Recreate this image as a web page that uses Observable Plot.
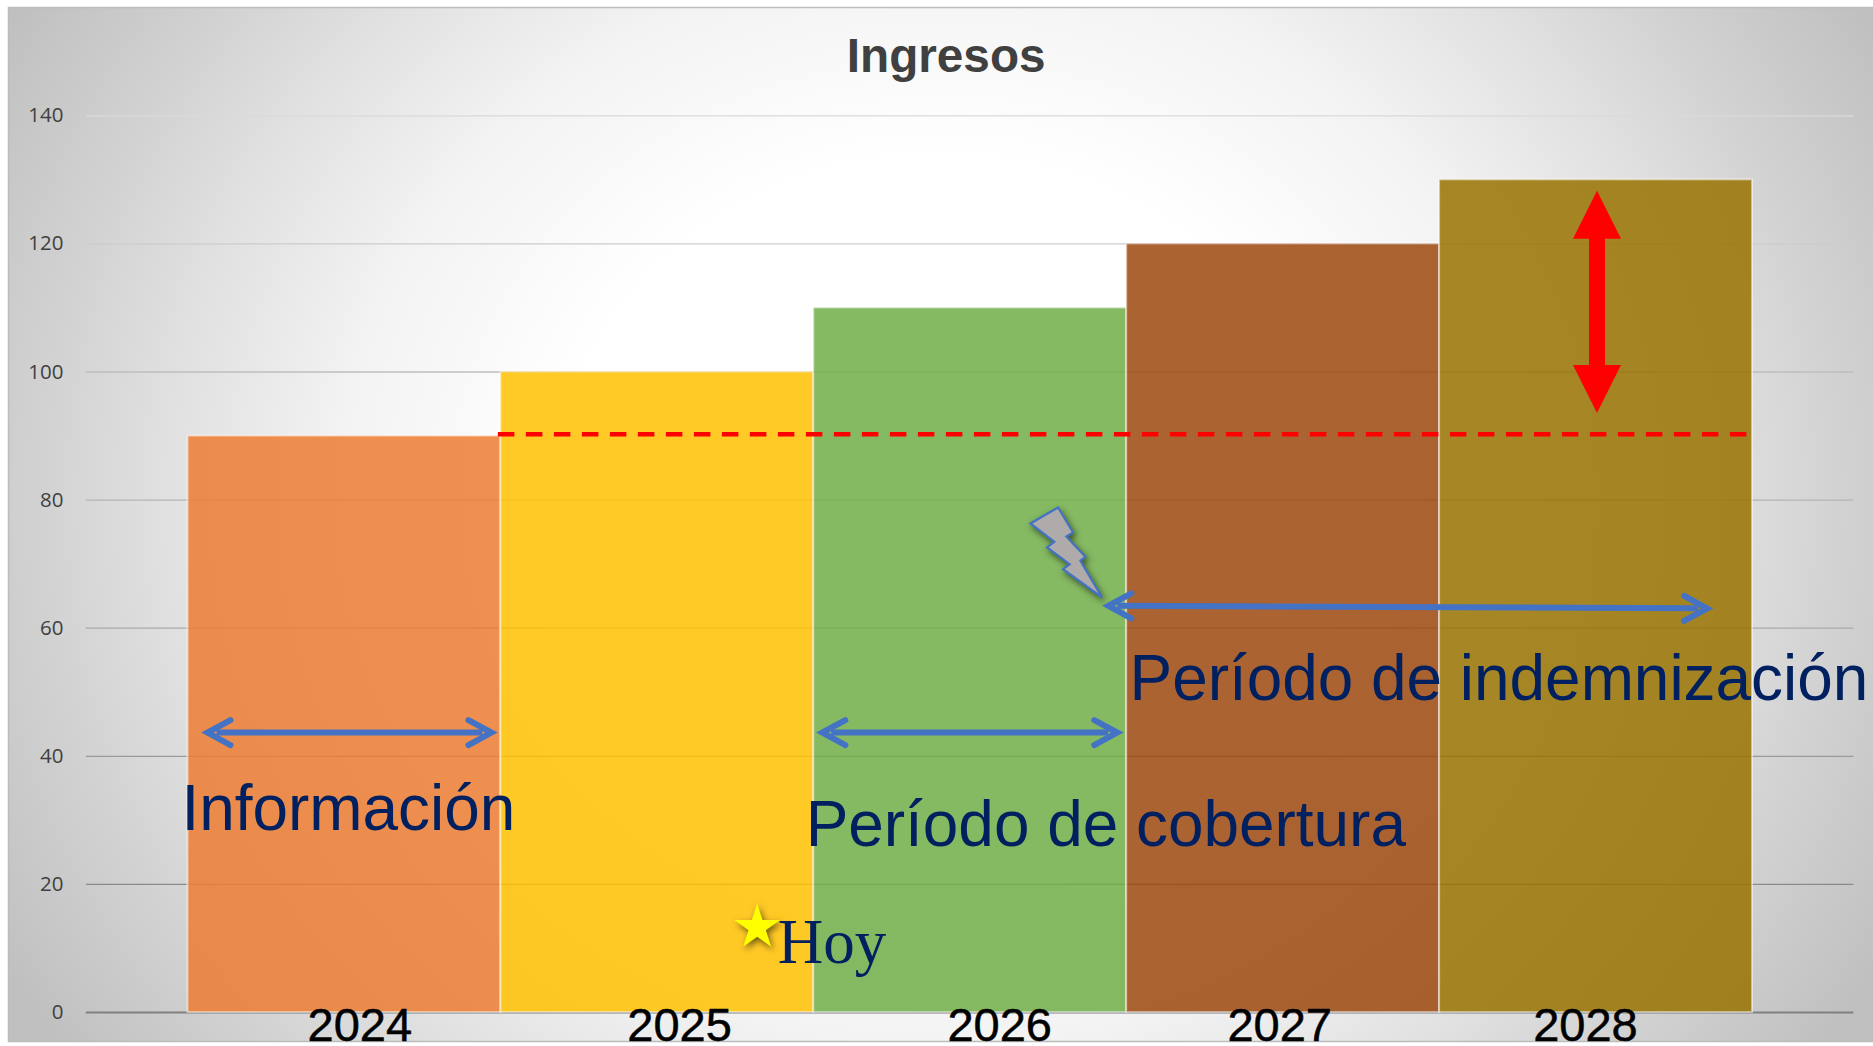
<!DOCTYPE html>
<html lang="es">
<head>
<meta charset="utf-8">
<title>Ingresos</title>
<script src="https://cdn.jsdelivr.net/npm/d3@7"></script>
<script src="https://cdn.jsdelivr.net/npm/@observablehq/plot@0.6"></script>
<style>
  html, body { margin: 0; padding: 0; background: #fff; overflow: hidden; }
  svg { display: block; }
</style>
</head>
<body>
<div id="chart"></div>
<script>
// Datos
const years = [2024, 2025, 2026, 2027, 2028];
const ingresos = [90, 100, 110, 120, 130];
const barColors = ["#ED7D31", "#FFC000", "#70AD47", "#9E480E", "#997300"];
const yTicks = [0, 20, 40, 60, 80, 100, 120, 140];

// Posición de las etiquetas de año (en años, no centradas en la barra)
const yearLabelX = [2024.049, 2025.071, 2026.094, 2026.989, 2027.966];
const yearLabelY = -4.4;

const bars = years.map((year, i) => ({year, value: ingresos[i], color: barColors[i]}));
const yearLabels = years.map((year, i) => ({year, x: yearLabelX[i]}));

const labelTexts = ["Información", "Período de cobertura", "Período de indemnización"];
const labelX = [2023.479, 2025.474, 2026.509];
const labelY = [28.5, 26.0, 48.75];
const labels = labelTexts.map((text, i) => ({text, x: labelX[i], y: labelY[i]}));

const spanX1 = [2023.591, 2025.556, 2026.470];
const spanX2 = [2024.441, 2026.441, 2028.326];
const spanY1 = [43.7, 43.7, 63.5];
const spanY2 = [43.7, 43.7, 63.1];
const spans = spanX1.map((x1, i) => ({x1, x2: spanX2[i], y1: spanY1[i], y2: spanY2[i]}));

const gridShade = d3.scaleLinear([0, 20, 60, 100, 140], ["#808080", "#8a8a8a", "#aaaaaa", "#bebebe", "#dadada"]);

const svgNS = "http://www.w3.org/2000/svg";

function polygon(points) {
  return {draw(context) {
    points.forEach(([x, y], i) => i ? context.lineTo(x, y) : context.moveTo(x, y));
    context.closePath();
  }};
}
const headUp = polygon([[0, 0], [-24, 48], [24, 48]]);
const headDown = polygon([[0, 0], [-24, -48], [24, -48]]);
const bolt = polygon([[-2.3,-40],[-30,-24],[-6,-5.7],[-13.3,0],[9.3,16.7],[2.7,21.7],[41.7,50],[20,13.3],[25,9.3],[6,-11],[12.7,-15]]);

// Punta de flecha abierta, como en la figura
function chevron(color, context) {
  const doc = context.document;
  const marker = doc.createElementNS(svgNS, "marker");
  const attrs = {viewBox: "-22 -20 44 40", refX: 0, refY: 0, markerWidth: 44, markerHeight: 40,
                 markerUnits: "userSpaceOnUse", orient: "auto-start-reverse"};
  Object.entries(attrs).forEach(([k, v]) => marker.setAttribute(k, v));
  const path = doc.createElementNS(svgNS, "path");
  path.setAttribute("d", "M-14,-12.5L9,0L-14,12.5");
  path.setAttribute("fill", "none");
  path.setAttribute("stroke", color);
  path.setAttribute("stroke-width", 6);
  path.setAttribute("stroke-linecap", "round");
  path.setAttribute("stroke-miterlimit", 10);
  marker.appendChild(path);
  return marker;
}

// Sombra de las formas
function shadow(index, scales, values, dimensions, context, next) {
  const g = next(index, scales, values, dimensions, context);
  g.style.filter = "drop-shadow(2px 3px 3px rgba(0,0,0,.55))";
  return g;
}

const background = () => {
  const defs = document.createElementNS(svgNS, "defs");
  const g = document.createElementNS(svgNS, "radialGradient");
  g.setAttribute("id", "panelGradient");
  g.setAttribute("gradientUnits", "userSpaceOnUse");
  g.setAttribute("cx", 0); g.setAttribute("cy", 0); g.setAttribute("r", 1.07);
  g.setAttribute("gradientTransform", "translate(940 500) scale(1000 900)");
  [[0.38,"#ffffff"],[0.6,"#f3f3f3"],[0.78,"#e0e0e0"],[0.9,"#d2d2d2"],[1.07,"#c0c0c0"]].forEach(([o, c]) => {
    const s = document.createElementNS(svgNS, "stop");
    s.setAttribute("offset", o / 1.07); s.setAttribute("stop-color", c);
    g.appendChild(s);
  });
  defs.appendChild(g);
  return defs;
};

const chart = Plot.plot({
  width: 1873,
  height: 1046,
  margin: 0,
  style: {background: "transparent", fontFamily: "'Liberation Sans', Arial, sans-serif", overflow: "hidden"},
  x: {domain: [2023.5, 2028.5], range: [187.5, 1752], axis: null},
  y: {domain: [0, 140], range: [1012, 115.3], axis: null},
  marks: [
    background,
    Plot.frame({fill: "url(#panelGradient)", stroke: "#bcbcbc", strokeWidth: 1.5, insetLeft: 8, insetTop: 7, insetBottom: 5, insetRight: -3}),
    Plot.ruleY(yTicks, {x1: 2023.175, x2: 2028.824, y: d => d, stroke: d => gridShade(d), strokeWidth: d => d === 0 ? 2 : 1.3}),
    Plot.axisY({ticks: yTicks, tickSize: 0, tickPadding: 0, dx: 63, fontSize: 20.5, fontFamily: "'Open Sans', sans-serif", fill: "#404040", label: null}),
    Plot.rectY(bars, {x1: d => d.year - 0.5, x2: d => d.year + 0.5, y1: 0, y2: "value", fill: "color", fillOpacity: 0.85, stroke: "#fff", strokeOpacity: 0.5, strokeWidth: 2}),
    Plot.ruleY([90.3], {x1: 2024.492, x2: 2028.482, stroke: "#ff0000", strokeWidth: 4.5, strokeDasharray: "16.5 11.5"}),
    Plot.ruleX([2028.003], {y1: 101, y2: 121, stroke: "#ff0000", strokeWidth: 16}),
    Plot.dot([{x: 2028.003, y: 128.3}], {x: "x", y: "y", symbol: headUp, fill: "#ff0000", stroke: "none"}),
    Plot.dot([{x: 2028.003, y: 93.6}], {x: "x", y: "y", symbol: headDown, fill: "#ff0000", stroke: "none"}),
    Plot.dot([{x: 2025.319, y: 13.27}], {x: "x", y: "y", symbol: "star", r: 14.3, fill: "#ffff00", stroke: "none", render: shadow}),
    Plot.dot([{x: 2026.288, y: 72.6}], {x: "x", y: "y", symbol: bolt, fill: "#AFABAB", stroke: "#4472C4", strokeWidth: 2.2, render: shadow}),
    Plot.link(spans, {x1: "x1", x2: "x2", y1: "y1", y2: "y2", stroke: "#4472C4", strokeWidth: 6, markerStart: chevron, markerEnd: chevron}),
    Plot.text(labels, {x: "x", y: "y", text: "text", textAnchor: "start", lineAnchor: "bottom", fill: "#002060", fontSize: 63.9, fontFamily: "'Liberation Sans', Arial, sans-serif"}),
    Plot.text(["Hoy"], {x: 2025.385, y: 7.7, text: d => d, textAnchor: "start", lineAnchor: "bottom", fill: "#002060", fontSize: 63, fontFamily: "'Liberation Serif', serif"}),
    Plot.text(yearLabels, {x: "x", y: yearLabelY, text: d => String(d.year), lineAnchor: "bottom", fill: "#000", stroke: "#000", strokeWidth: 0.5, fontSize: 47, fontFamily: "'Liberation Sans', Arial, sans-serif"}),
    Plot.text(["Ingresos"], {x: 2025.923, y: 146.8, text: d => d, lineAnchor: "bottom", fill: "#404040", fontSize: 47.7, fontWeight: "bold", fontFamily: "'Liberation Sans', Arial, sans-serif"})
  ]
});
document.getElementById("chart").appendChild(chart);
</script>
</body>
</html>
